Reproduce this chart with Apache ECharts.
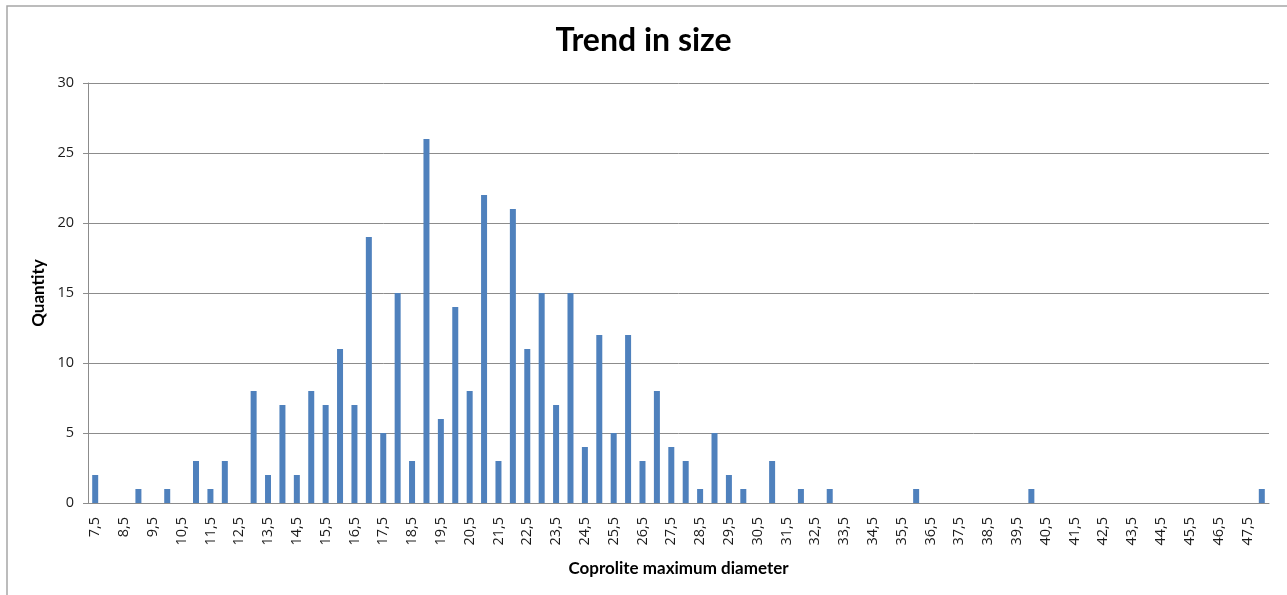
<!DOCTYPE html>
<html>
<head>
<meta charset="utf-8">
<title>Trend in size</title>
<script src="https://cdn.jsdelivr.net/npm/echarts@6/dist/echarts.min.js"></script>
<style>
  html, body { margin: 0; padding: 0; background: #ffffff; }
  #chart { width: 1287px; height: 595px; }
</style>
</head>
<body>
<div id="chart"></div>
<script>
// Diameter classes (mm), written with a decimal comma
const categories = [
  "7,5", "8", "8,5", "9", "9,5", "10", "10,5", "11", "11,5", "12",
  "12,5", "13", "13,5", "14", "14,5", "15", "15,5", "16", "16,5", "17",
  "17,5", "18", "18,5", "19", "19,5", "20", "20,5", "21", "21,5", "22",
  "22,5", "23", "23,5", "24", "24,5", "25", "25,5", "26", "26,5", "27",
  "27,5", "28", "28,5", "29", "29,5", "30", "30,5", "31", "31,5", "32",
  "32,5", "33", "33,5", "34", "34,5", "35", "35,5", "36", "36,5", "37",
  "37,5", "38", "38,5", "39", "39,5", "40", "40,5", "41", "41,5", "42",
  "42,5", "43", "43,5", "44", "44,5", "45", "45,5", "46", "46,5", "47",
  "47,5", "48"
];

// Number of coprolites in each class
const quantity = [
  2, 0, 0, 1, 0, 1, 0, 3, 1, 3,
  0, 8, 2, 7, 2, 8, 7, 11, 7, 19,
  5, 15, 3, 26, 6, 14, 8, 22, 3, 21,
  11, 15, 7, 15, 4, 12, 5, 12, 3, 8,
  4, 3, 1, 5, 2, 1, 0, 3, 0, 1,
  0, 1, 0, 0, 0, 0, 0, 1, 0, 0,
  0, 0, 0, 0, 0, 1, 0, 0, 0, 0,
  0, 0, 0, 0, 0, 0, 0, 0, 0, 0,
  0, 1
];

// Value axis ticks
const yTicks = { min: 0, max: 30, interval: 5 };

const headFont = 'Lato, "Open Sans", "DejaVu Sans", sans-serif';
const tickFont = '"Open Sans", "DejaVu Sans", sans-serif';
const chart = echarts.init(document.getElementById('chart'), null, { renderer: 'canvas' });

chart.setOption({
  backgroundColor: '#ffffff',
  animation: false,
  title: {
    text: 'Trend in size',
    left: 'center',
    top: 20,
    textStyle: { fontFamily: headFont, fontSize: 32, fontWeight: 'bold', color: '#000000' }
  },
  graphic: [{
    type: 'rect',
    shape: { x: 7, y: 6, width: 1300, height: 620 },
    style: { fill: 'none', stroke: '#a6a6a6', lineWidth: 1.5 },
    silent: true,
    z: -1
  }],
  grid: { left: 88, right: 18, top: 83, bottom: 92 },
  xAxis: {
    type: 'category',
    data: categories,
    name: 'Coprolite maximum diameter',
    nameLocation: 'middle',
    nameGap: 57,
    nameTextStyle: { fontFamily: headFont, fontSize: 17, fontWeight: 'bold', color: '#000000' },
    axisLine: { lineStyle: { color: '#8c8c8c', width: 1 } },
    axisTick: { show: false },
    axisLabel: {
      interval: 1,
      rotate: 90,
      margin: 14,
      fontFamily: tickFont,
      fontSize: 14.5,
      color: '#1a1a1a'
    },
    splitLine: { show: false }
  },
  yAxis: {
    type: 'value',
    min: yTicks.min,
    max: yTicks.max,
    interval: yTicks.interval,
    name: 'Quantity',
    nameLocation: 'middle',
    nameGap: 38,
    nameTextStyle: { fontFamily: headFont, fontSize: 17, fontWeight: 'bold', color: '#000000' },
    axisLine: { show: true, lineStyle: { color: '#8c8c8c', width: 1 } },
    axisTick: { show: true, length: 5, lineStyle: { color: '#8c8c8c' } },
    axisLabel: { margin: 14, fontFamily: tickFont, fontSize: 14.5, color: '#1a1a1a' },
    splitLine: { show: true, lineStyle: { color: '#8c8c8c', width: 1 } }
  },
  series: [{
    type: 'bar',
    data: quantity,
    barWidth: 6,
    itemStyle: { color: '#4f81bd' }
  }]
});
</script>
</body>
</html>
